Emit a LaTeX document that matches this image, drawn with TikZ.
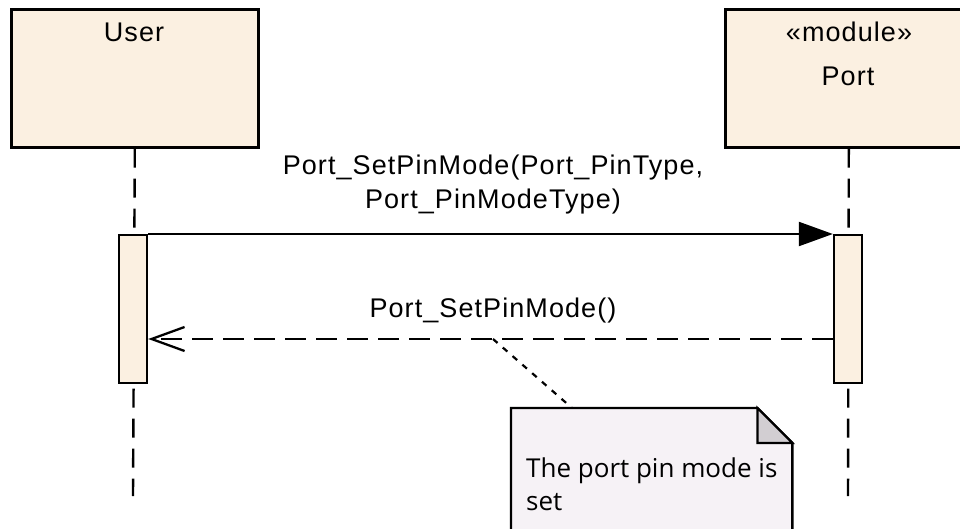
\documentclass[tikz,border=0pt]{standalone}
\usepackage{fontspec}
\setmainfont[LetterSpace=4]{Liberation Sans}
\newfontfamily\notefont{Open Sans}
\usetikzlibrary{arrows.meta}
\definecolor{boxfill}{RGB}{251,240,225}
\definecolor{notefill}{RGB}{246,242,246}
\definecolor{foldfill}{RGB}{210,206,210}
\begin{document}
\begin{tikzpicture}[x=1pt,y=-1pt,
  lifebox/.style={draw,line width=2.6pt,fill=boxfill,minimum width=247pt,minimum height=138pt,inner sep=0pt,anchor=north west},
  actbar/.style={draw,line width=2.4pt,fill=boxfill,minimum width=28pt,minimum height=148pt,inner sep=0pt,anchor=north},
  lifeline/.style={line width=2.4pt,dash pattern=on 19pt off 11pt},
  msg/.style={line width=2.3pt},
  lbl/.style={font=\fontsize{27}{34}\selectfont,inner sep=0pt},
  notetxt/.style={font=\notefont\fontsize{26}{33}\selectfont,inner sep=0pt,anchor=base west}]
\clip (0,0) rectangle (960,529);
\fill[white] (0,0) rectangle (960,529);
% lifeline heads
\node[lifebox] (user) at (10,8) {};
\node[lifebox] (port) at (724,8) {};
\node[lbl,anchor=base] (usertxt) at (134,42) {User};
\node[lbl,anchor=base] (stereo) at (849,42) {«module»};
\node[lbl,anchor=base] (porttxt) at (848,86) {Port};
% lifelines
\coordinate (uend) at (133,496);
\coordinate (pend) at (848,496);
\draw[lifeline] (user.south) -- (uend);
\draw[lifeline] (port.south) -- (pend);
% activation bars
\node[actbar] (ubar) at (133,234) {};
\node[actbar] (pbar) at (848,234) {};
% call message
\draw[msg,-{Triangle[length=34pt,width=24pt]}] (ubar.north east) -- (pbar.north west);
\node[lbl,align=center,anchor=base] (calltxt) at (493,209) {Port\_SetPinMode(Port\_PinType,\\Port\_PinModeType)};
% return message
\coordinate (rstart) at ([yshift=-105pt]pbar.north west);
\coordinate (rend) at ([yshift=-105pt]ubar.north east);
\draw[msg,dash pattern=on 21pt off 10pt,-{Straight Barb[length=33pt,width=24pt,line width=2.3pt]}] (rstart) -- (rend);
\node[lbl,anchor=base] (rettxt) at (493,317) {Port\_SetPinMode()};
% note
\coordinate (nanchor) at (493,339);
\node[inner sep=0pt,minimum width=281pt,minimum height=140pt,anchor=north west] (note) at (511,408) {};
\draw[line width=2.4pt,fill=notefill] (note.north west) -- ([xshift=-35pt]note.north east) -- ([yshift=-35pt]note.north east) -- (note.south east) -- (note.south west) -- cycle;
\draw[line width=2.2pt,fill=foldfill,line join=miter] ([xshift=-35pt]note.north east) -- ([xshift=-35pt,yshift=-35pt]note.north east) -- ([yshift=-35pt]note.north east) -- cycle;
\draw[line width=2.2pt,dash pattern=on 6pt off 7pt] (nanchor) -- ([xshift=61pt]note.north west);
\node[notetxt] (n1) at (526,477) {The port pin mode is};
\node[notetxt] (n2) at (526,510) {set};
\end{tikzpicture}
\end{document}
